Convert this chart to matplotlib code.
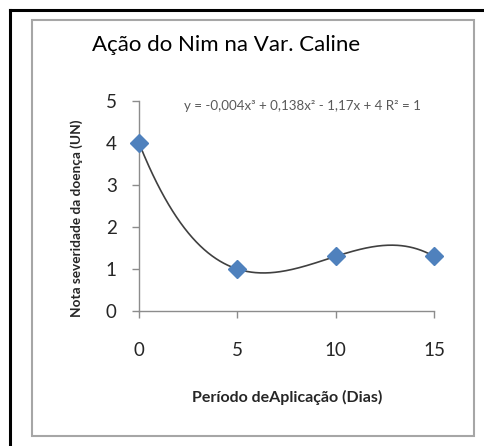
import numpy as np
import matplotlib
matplotlib.use("Agg")
import matplotlib.pyplot as plt
from matplotlib.lines import Line2D
from matplotlib.patches import Rectangle

# Dados
dias = [0, 5, 10, 15]
nota = [4.0, 1.0, 1.3, 1.3]
x_ticks = [0, 5, 10, 15]
y_ticks = [0, 1, 2, 3, 4, 5]
titulo = "Ação do Nim na Var. Caline"
equacao = "y = -0,004x³ + 0,138x² - 1,17x + 4 R² = 1"
rotulo_x = "Período deAplicação (Dias)"
rotulo_y = "Nota severidade da doença (UN)"

plt.rcParams['font.family'] = ['Lato', 'DejaVu Sans']

W, H = 484, 446
fig = plt.figure(figsize=(W / 100, H / 100), dpi=100)

# molduras
fig.add_artist(Line2D([10 / W, 1], [1 - 10 / H, 1 - 10 / H], color='black', lw=2.2, transform=fig.transFigure))
fig.add_artist(Line2D([10 / W, 10 / W], [0, 1 - 10 / H], color='black', lw=2.2, transform=fig.transFigure))
fig.add_artist(Rectangle((32 / W, 1 - 436 / H), (474 - 32) / W, (436 - 20) / H,
                         fill=False, ec='#a6a6a6', lw=1.5, transform=fig.transFigure))

ax = fig.add_axes([139 / W, 1 - 311 / H, (434 - 139) / W, (311 - 101) / H])

# linha de tendência polinomial (ordem 3)
coef = np.polyfit(dias, nota, 3)
xs = np.linspace(0, 15, 300)
ax.plot(xs, np.polyval(coef, xs), color='#404040', lw=1.2, zorder=2)
ax.plot(dias, nota, ls='none', marker='D', ms=9.5, color='#4f81bd', mec='#4f81bd', zorder=3, clip_on=False)

ax.set_xlim(0, 15)
ax.set_ylim(0, 5)
ax.set_xticks(x_ticks)
ax.set_yticks(y_ticks)
for s in ['top', 'right']:
    ax.spines[s].set_visible(False)
for s in ['left', 'bottom']:
    ax.spines[s].set_color('#8c8c8c')
    ax.spines[s].set_linewidth(1.0)
ax.tick_params(axis='x', length=5, width=1, color='#8c8c8c', pad=17, labelsize=13.5, labelcolor='#262626')
ax.tick_params(axis='y', length=5, width=1, color='#8c8c8c', pad=11, labelsize=13.5, labelcolor='#262626')

fig.text(226 / W, 1 - 45 / H, titulo, ha='center', va='center', fontsize=16, color='black')
fig.text(302 / W, 1 - 106 / H, equacao, ha='center', va='center', fontsize=9.6, color='#595959')
fig.text(77 / W, 1 - 218 / H, rotulo_y, ha='center', va='center', rotation=90, fontsize=9.8,
         fontweight='bold', color='#262626')
fig.text(287 / W, 1 - 397 / H, rotulo_x, ha='center', va='center', fontsize=11.5,
         fontweight='bold', color='#262626')

fig.savefig("out.png", dpi=100)
